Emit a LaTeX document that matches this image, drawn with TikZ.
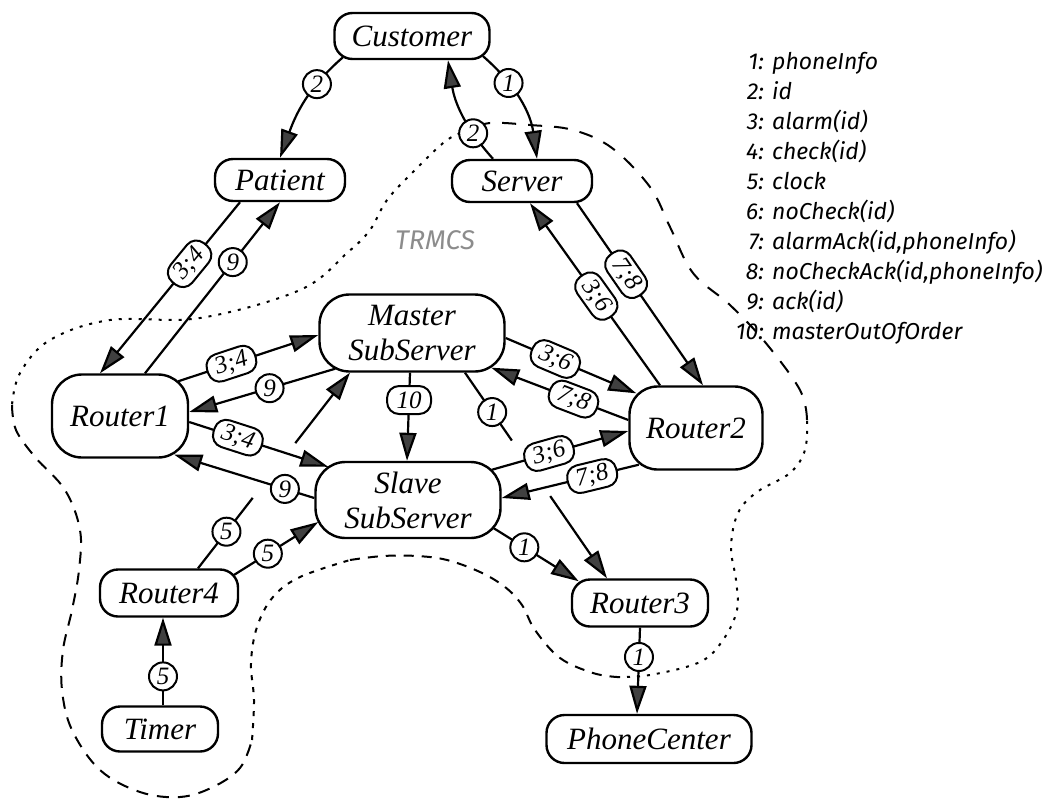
\documentclass[tikz,border=0pt]{standalone}
\usepackage{fontspec}
\newfontfamily\compfont{Liberation Serif}
\newfontfamily\legendfont{Fira Sans}
\usetikzlibrary{arrows.meta,calc,backgrounds}

\tikzset{
  comp/.style={draw, fill=white, line width=2.4pt, rounded corners=18pt, inner sep=0pt,
    align=center, font=\compfont\itshape\fontsize{31}{35}\selectfont},
  bigcomp/.style={comp, rounded corners=30pt},
  link/.style={line width=2.2pt},
  msg/.style={link, -{Triangle[length=28pt,width=17pt,fill=black!75]}},
  num/.style={circle, draw, fill=white, line width=2pt, inner sep=0pt, minimum size=28pt,
    font=\compfont\itshape\fontsize{25}{25}\selectfont},
  pair/.style={draw, fill=white, line width=2pt, rounded corners=12pt, inner xsep=5pt,
    inner ysep=0pt, minimum height=28pt, minimum width=50pt,
    font=\compfont\itshape\fontsize{25}{25}\selectfont},
  boundary/.style={line width=2pt},
  legend/.style={inner sep=0pt, font=\legendfont\itshape\fontsize{23}{23}\selectfont},
}

\begin{document}
\begin{tikzpicture}[x=1pt,y=1pt]
  \useasboundingbox (0,0) rectangle (1055,-801);
  % Components
  \node[comp, minimum width=155pt, minimum height=46pt] (customer) at (412,-36) {Customer};
  \node[comp, minimum width=130pt, minimum height=42pt] (patient) at (280,-180) {Patient};
  \node[comp, minimum width=140pt, minimum height=42pt] (server) at (522,-181) {Server};
  \node[bigcomp, minimum width=136pt, minimum height=83pt] (router1) at (120,-416) {Router1};
  \node[bigcomp, minimum width=185pt, minimum height=77pt] (master) at (412,-333) {Master\\SubServer};
  \node[bigcomp, minimum width=185pt, minimum height=76pt] (slave) at (408,-500) {Slave\\SubServer};
  \node[bigcomp, rounded corners=28pt, minimum width=133pt, minimum height=83pt] (router2) at (696,-428) {Router2};
  \node[comp, minimum width=138pt, minimum height=47pt] (router4) at (169,-593) {Router4};
  \node[comp, minimum width=136pt, minimum height=47pt] (router3) at (640,-603) {Router3};
  \node[comp, minimum width=116pt, minimum height=45pt] (timer) at (160,-729) {Timer};
  \node[comp, minimum width=205pt, minimum height=48pt] (phone) at (649,-739) {PhoneCenter};
  % System boundary
  \node[font=\legendfont\itshape\fontsize{27}{27}\selectfont, text=black!45] (trmcs) at (435,-240) {TRMCS};
  \begin{scope}[on background layer]
    \draw[boundary, dash pattern=on 3pt off 7pt] plot[smooth, tension=0.6] coordinates {
      (470,-130) (447,-140) (415,-170) (387,-200) (370,-230) (347,-253) (300,-290)
      (200,-318) (110,-320) (50,-340) (20,-373) (12,-405)};
    \draw[boundary, dash pattern=on 12pt off 9pt] plot[smooth, tension=0.6] coordinates {
      (12,-405) (16,-430) (35,-457) (65,-490) (80,-530) (79,-570) (72,-610) (63,-650)
      (62,-690) (72,-730) (100,-770) (140,-792) (180,-797) (213,-787) (240,-768) (252,-740)};
    \draw[boundary, dash pattern=on 5pt off 7pt] plot[smooth, tension=0.6] coordinates {
      (252,-740) (254,-700) (251,-663) (257,-627) (273,-597) (300,-577) (350,-560)};
    \draw[boundary, dash pattern=on 10pt off 8pt] plot[smooth, tension=0.6] coordinates {
      (350,-560) (383,-556) (417,-556) (447,-560) (480,-572) (505,-587) (522,-605)
      (535,-630) (560,-658) (593,-673) (617,-677)};
    \draw[boundary, dash pattern=on 3pt off 7pt] plot[smooth, tension=0.6] coordinates {
      (617,-677) (650,-675) (700,-662) (723,-640) (737,-610) (736,-580) (731,-547)
      (738,-513) (757,-492) (790,-473) (805,-450) (807,-420)};
    \draw[boundary, dash pattern=on 14pt off 12pt] plot[smooth, tension=0.6] coordinates {
      (807,-420) (800,-390) (765,-342) (730,-305) (693,-273) (670,-227) (650,-187)
      (612,-148) (573,-130) (530,-125) (490,-123) (470,-130)};
    % Customer, Patient and Server
    \draw[msg] ($(customer.south)+(-69,3)$) to[out=-139,in=70] node[num,pos=0.3]{2} (patient.north);
    \draw[msg] ($(customer.south)+(71,4)$) to[out=-41,in=98] node[num,pos=0.3]{1} ($(server.north)+(15,0)$);
    \draw[msg] ($(server.north)+(-29,0)$) to[out=132,in=-81] node[num,pos=0.28]{2} ($(customer.south)+(36,0)$);
    % Patient and Router1
    \draw[msg] ($(patient.south)+(-40,0)$) -- node[pair,sloped,pos=0.36]{3;4} ($(router1.north)+(-20,0)$);
    \draw[msg] ($(router1.north)+(25,0)$) -- node[num,pos=0.65]{9} (patient.south);
    % Router1 and the subservers
    \draw[msg] ($(router1.north east)+(-11,-8)$) -- node[pair,sloped,pos=0.38]{3;4} ($(master.west)+(0,-2)$);
    \draw[msg] ($(master.south west)+(17,4)$) -- node[num,pos=0.45]{9} ($(router1.east)+(0,4)$);
    \draw[msg] ($(router1.east)+(0,-6)$) -- node[pair,sloped,pos=0.35]{3;4} ($(slave.north west)+(14,-6)$);
    \draw[msg] ($(slave.west)+(0,2)$) -- node[num,pos=0.21]{9} ($(router1.south east)+(-15,4)$);
    % Master and Slave
    \draw[msg] ($(master.south)+(-2,0)$) -- node[pair,minimum width=44pt,pos=0.31]{10} ($(slave.north)+(-1,0)$);
    % Router4 and Timer
    \coordinate (r4out) at ($(router4.north)+(29,0)$);
    \coordinate (msin) at ($(master.south)+(-62,0)$);
    \coordinate (r4gap) at ($(r4out)!0.36!(msin)$);
    \coordinate (msgap) at ($(r4out)!0.64!(msin)$);
    \draw[link] (r4out) -- node[num,pos=0.52]{5} (r4gap);
    \draw[msg] (msgap) -- (msin);
    \draw[msg] ($(router4.north east)+(-5,-6.5)$) -- node[num,pos=0.4]{5} ($(slave.west)+(4,-22)$);
    \draw[msg] ($(timer.north)+(3,0)$) -- node[num,pos=0.33]{5} ($(router4.south)+(-6,0)$);
    % Subservers and Router2
    \draw[msg] ($(master.east)+(0,-5)$) -- node[pair,sloped,pos=0.38]{3;6} ($(router2.north west)+(8,-8)$);
    \draw[msg] ($(router2.west)+(0,8)$) -- node[pair,sloped,pos=0.4]{7;8} ($(master.south east)+(-14.5,5)$);
    \draw[msg] ($(slave.north east)+(-10,-9)$) -- node[pair,sloped,pos=0.42]{3;6} ($(router2.west)+(0,-3)$);
    \draw[msg] ($(router2.south west)+(10.5,6)$) -- node[pair,sloped,pos=0.34]{7;8} ($(slave.east)+(0,2)$);
    % Server and Router2
    \draw[msg] ($(server.south)+(55,0)$) -- node[pair,sloped,pos=0.39]{7;8} ($(router2.north)+(7,0)$);
    \draw[msg] ($(router2.north)+(-36,0)$) -- node[pair,sloped,pos=0.49]{3;6} ($(server.south)+(8,0)$);
    % Router3 and PhoneCenter
    \coordinate (msout) at ($(master.south)+(53,0)$);
    \coordinate (r3in) at ($(router3.north)+(-33,0)$);
    \coordinate (msgap2) at ($(msout)!0.33!(r3in)$);
    \coordinate (r3gap) at ($(msout)!0.6!(r3in)$);
    \draw[link] (msout) -- node[num,pos=0.58]{1} (msgap2);
    \draw[msg] (r3gap) -- (r3in);
    \draw[msg] ($(slave.south east)+(-8,11)$) -- node[num,pos=0.36]{1} ($(router3.north west)+(8,-3)$);
    \draw[msg] (router3.south) -- node[num,pos=0.34]{1} ($(phone.north)+(-12,0)$);
  \end{scope}
  % Legend
  \foreach \n/\txt [count=\i] in {1/phoneInfo, 2/id, 3/alarm(id), 4/check(id), 5/clock,
      6/noCheck(id), 7/{alarmAck(id,phoneInfo)}, 8/{noCheckAck(id,phoneInfo)}, 9/ack(id),
      10/masterOutOfOrder}
  {
    \node[legend, anchor=base east] (key\n) at (764,{-69-30.1*(\i-1)}) {\n:};
    \node[legend, anchor=base west] (leg\n) at (772,{-69-30.1*(\i-1)}) {\txt};
  }
\end{tikzpicture}
\end{document}
